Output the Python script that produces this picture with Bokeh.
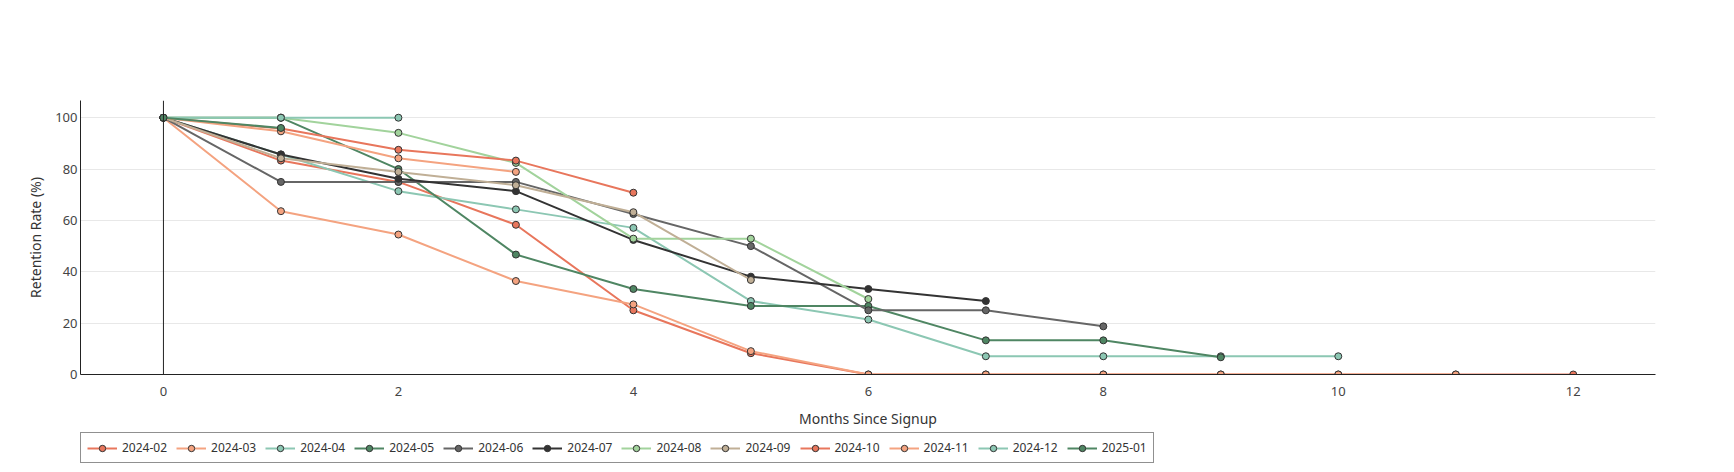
from bokeh.plotting import figure
from bokeh.models import Range1d, FixedTicker, Legend, LegendItem, Span
from bokeh.layouts import column
from bokeh.embed import file_html
from bokeh.resources import INLINE

cohorts = ["2024-02", "2024-03", "2024-04", "2024-05", "2024-06", "2024-07",
           "2024-08", "2024-09", "2024-10", "2024-11", "2024-12", "2025-01"]

r_2024_02 = [100, 83.3, 75.0, 58.3, 25.0, 8.3, 0, 0, 0, 0, 0, 0, 0]
r_2024_03 = [100, 63.6, 54.5, 36.4, 27.3, 9.1, 0, 0, 0, 0, 0, 0]
r_2024_04 = [100, 85.7, 71.4, 64.3, 57.1, 28.6, 21.4, 7.1, 7.1, 7.1, 7.1]
r_2024_05 = [100, 100, 80.0, 46.7, 33.3, 26.7, 26.7, 13.3, 13.3, 6.7]
r_2024_06 = [100, 75.0, 75.0, 75.0, 62.5, 50.0, 25.0, 25.0, 18.75]
r_2024_07 = [100, 85.7, 76.2, 71.4, 52.4, 38.1, 33.3, 28.6]
r_2024_08 = [100, 100, 94.1, 82.4, 52.9, 52.9, 29.4]
r_2024_09 = [100, 84.2, 78.9, 73.7, 63.2, 36.8]
r_2024_10 = [100, 95.8, 87.5, 83.3, 70.8]
r_2024_11 = [100, 94.7, 84.2, 78.9]
r_2024_12 = [100, 100, 100]
r_2025_01 = [100, 96.0]

series = [r_2024_02, r_2024_03, r_2024_04, r_2024_05, r_2024_06, r_2024_07,
          r_2024_08, r_2024_09, r_2024_10, r_2024_11, r_2024_12, r_2025_01]

palette = ["#e8765c", "#f4a380", "#8cc7b3", "#4f8663", "#666666", "#333333",
           "#a2d39c", "#c0af96"]

x_ticks = [0, 2, 4, 6, 8, 10, 12]
y_ticks = [0, 20, 40, 60, 80, 100]

FONT = "Noto Sans"

p = figure(width=1718, height=432, output_backend="svg", toolbar_location=None,
           x_range=Range1d(-0.706, 12.70), y_range=Range1d(0, 106.7),
           min_border_top=100, min_border_left=79, min_border_right=63,
           min_border_bottom=58)
p.outline_line_color = None
p.background_fill_color = "white"

p.xgrid.grid_line_color = None
p.ygrid.grid_line_color = "#e8e8e8"
p.ygrid.grid_line_width = 1

for ax in (p.xaxis[0], p.yaxis[0]):
    ax.axis_line_color = "#222222"
    ax.axis_line_width = 1
    ax.major_tick_line_color = None
    ax.minor_tick_line_color = None
    ax.major_tick_out = 0
    ax.major_tick_in = 0
    ax.major_label_text_font = FONT
    ax.major_label_text_font_size = "13px"
    ax.major_label_text_color = "#444444"
    ax.axis_label_text_font = FONT
    ax.axis_label_text_font_size = "14px"
    ax.axis_label_text_font_style = "normal"
    ax.axis_label_text_color = "#333333"

p.xaxis.ticker = FixedTicker(ticks=x_ticks)
p.yaxis.ticker = FixedTicker(ticks=y_ticks)
p.xaxis.axis_label = "Months Since Signup"
p.yaxis.axis_label = "Retention Rate (%)"
p.xaxis.major_label_standoff = 12
p.xaxis.axis_label_standoff = 10
p.yaxis.major_label_standoff = 3
p.yaxis.axis_label_standoff = 7

p.add_layout(Span(location=0, dimension="height", line_color="#222222", line_width=1))

# legend figure below the chart (its glyphs sit outside its visible range)
lp = figure(width=1718, height=34, output_backend="svg", toolbar_location=None,
            x_range=Range1d(0, 1), y_range=Range1d(0, 1),
            min_border_top=0, min_border_bottom=0, min_border_left=80,
            min_border_right=0)
lp.axis.visible = False
lp.grid.visible = False
lp.outline_line_color = None

items = []
for i, (name, vals) in enumerate(zip(cohorts, series)):
    col = palette[i % len(palette)]
    xs = list(range(len(vals)))
    p.line(xs, vals, line_color=col, line_width=2)
    p.scatter(xs, vals, size=7, fill_color=col, line_color="#333333", line_width=1)
    ln = lp.line([-10, -9], [-10, -10], line_color=col, line_width=2)
    sc = lp.scatter([-10], [-10], size=7, fill_color=col, line_color="#333333", line_width=1)
    items.append(LegendItem(label=name, renderers=[ln, sc]))

legend = Legend(items=items, orientation="horizontal", location="top_left",
                margin=0, padding=6, spacing=9, glyph_width=30, glyph_height=16,
                label_standoff=5, label_text_font=FONT, label_text_font_size="12px",
                label_text_color="#333333", border_line_color="#222222",
                border_line_width=1, background_fill_color="white",
                background_fill_alpha=1.0)
lp.add_layout(legend, "center")

open("out.html", "w").write(file_html(column(p, lp), INLINE))
